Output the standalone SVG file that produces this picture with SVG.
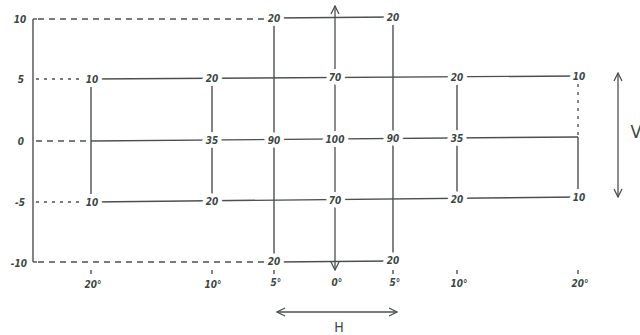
<svg xmlns="http://www.w3.org/2000/svg" width="640" height="335" viewBox="0 0 640 335">
<defs>
<marker id="open" viewBox="0 0 10 10" refX="9" refY="5" markerWidth="10" markerHeight="10" markerUnits="userSpaceOnUse" orient="auto-start-reverse">
<path d="M1,1 L9,5 L1,9" fill="none" stroke="#4a524e" stroke-width="1.3"/>
</marker>
<style>
.ln{stroke:#4b514e;stroke-width:1.4;fill:none}
.dash{stroke:#4b514e;stroke-width:1.4;fill:none;stroke-dasharray:6 5}
.dot{stroke:#4b514e;stroke-width:1.4;fill:none;stroke-dasharray:3 5}
.arr{stroke:#4b514e;stroke-width:1.3;fill:none;marker-start:url(#open);marker-end:url(#open)}
text{font-family:"DejaVu Sans Condensed","DejaVu Sans",sans-serif;font-size:10px;font-weight:bold;fill:#3b4642;text-anchor:middle;dominant-baseline:central;font-style:italic}
.v text{stroke:#ffffff;stroke-width:8;paint-order:stroke;stroke-linejoin:round}
.big{font-size:14px;font-style:normal;font-weight:normal}
</style>
</defs>
<rect width="640" height="335" fill="#ffffff"/>
<g id="connectors">
<line class="ln" x1="33" y1="19" x2="33" y2="262"/>
<line class="ln" x1="33" y1="19" x2="37" y2="19"/>
<line class="ln" x1="33" y1="262" x2="37" y2="262"/>
<line class="dash" x1="38" y1="19" x2="274" y2="19"/>
<line class="ln" x1="274" y1="18" x2="393" y2="17"/>
<line class="dot" x1="36" y1="79" x2="91" y2="79"/>
<line class="ln" x1="91" y1="79" x2="578" y2="76"/>
<line class="dash" x1="36" y1="141" x2="91" y2="141"/>
<line class="ln" x1="91" y1="141" x2="578" y2="137"/>
<line class="dot" x1="36" y1="202" x2="91" y2="202"/>
<line class="ln" x1="91" y1="202" x2="578" y2="197"/>
<line class="dash" x1="38" y1="262" x2="274" y2="262"/>
<line class="ln" x1="274" y1="262" x2="393" y2="261"/>
<line class="ln" x1="91" y1="79" x2="91" y2="202"/>
<line class="ln" x1="212" y1="79" x2="212" y2="202"/>
<line class="ln" x1="274" y1="18" x2="274" y2="262"/>
<line class="arr" x1="335" y1="6" x2="335" y2="270"/>
<line class="ln" x1="393" y1="17" x2="393" y2="261"/>
<line class="ln" x1="457" y1="77" x2="457" y2="198"/>
<line class="dot" x1="578" y1="76" x2="578" y2="137"/>
<line class="ln" x1="578" y1="137" x2="578" y2="197"/>
<line class="ln" x1="91" y1="270" x2="91" y2="274"/>
<line class="ln" x1="212" y1="270" x2="212" y2="274"/>
<line class="ln" x1="274" y1="270" x2="274" y2="274"/>
<line class="ln" x1="393" y1="270" x2="393" y2="274"/>
<line class="ln" x1="457" y1="270" x2="457" y2="274"/>
<line class="ln" x1="578" y1="270" x2="578" y2="274"/>
<line class="arr" x1="277" y1="312" x2="397" y2="312"/>
<line class="arr" x1="618" y1="73" x2="618" y2="197"/>
</g>
<g class="v">
<g id="n-r10-a"><text x="274" y="18">20</text></g>
<g id="n-r10-b"><text x="393" y="17">20</text></g>
<g id="n-r5-a"><text x="92" y="79">10</text></g>
<g id="n-r5-b"><text x="212" y="78">20</text></g>
<g id="n-r5-c"><text x="335" y="77">70</text></g>
<g id="n-r5-d"><text x="457" y="77">20</text></g>
<g id="n-r5-e"><text x="579" y="76">10</text></g>
<g id="n-r0-a"><text x="212" y="140">35</text></g>
<g id="n-r0-b"><text x="274" y="140">90</text></g>
<g id="n-r0-c"><text x="335" y="139">100</text></g>
<g id="n-r0-d"><text x="393" y="138">90</text></g>
<g id="n-r0-e"><text x="457" y="138">35</text></g>
<g id="n-rm5-a"><text x="92" y="202">10</text></g>
<g id="n-rm5-b"><text x="212" y="201">20</text></g>
<g id="n-rm5-c"><text x="335" y="200">70</text></g>
<g id="n-rm5-d"><text x="457" y="199">20</text></g>
<g id="n-rm5-e"><text x="579" y="197">10</text></g>
<g id="n-rm10-a"><text x="274" y="261">20</text></g>
<g id="n-rm10-b"><text x="393" y="260">20</text></g>
</g>
<g id="axis-labels">
<text x="20" y="19">10</text>
<text x="21" y="79">5</text>
<text x="21" y="141">0</text>
<text x="20" y="202">-5</text>
<text x="19" y="263">-10</text>
<text x="93" y="284">20°</text>
<text x="213" y="284">10°</text>
<text x="276" y="282">5°</text>
<text x="337" y="282">0°</text>
<text x="395" y="282">5°</text>
<text x="459" y="283">10°</text>
<text x="580" y="283">20°</text>
</g>
<g id="n-H"><text class="big" x="339" y="327">H</text></g>
<g id="n-V"><text class="big" x="636" y="131" style="font-size:18px">V</text></g>
</svg>
